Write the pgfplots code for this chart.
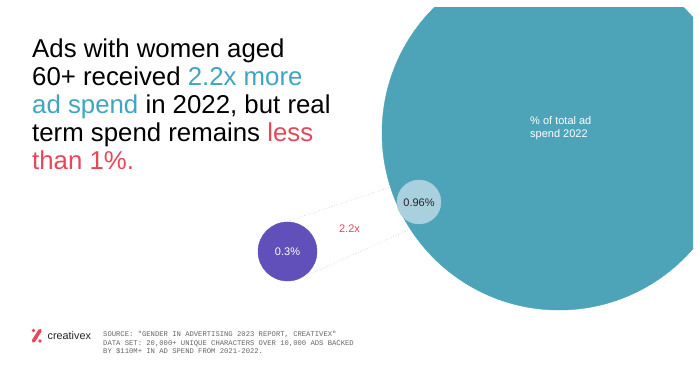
\documentclass[border=0pt]{standalone}
\usepackage{pgfplots}
\pgfplotsset{compat=1.18}
\usepackage{fontspec}
\setmainfont{Liberation Sans}
\setmonofont{Liberation Mono}
\definecolor{bigteal}{HTML}{4DA3B7}
\definecolor{lightblue}{HTML}{A8D0DE}
\definecolor{purp}{HTML}{6150B9}
\definecolor{titleteal}{HTML}{3FA6BF}
\definecolor{redtxt}{HTML}{E8475A}
\definecolor{srcgray}{HTML}{666666}
\definecolor{dotgray}{HTML}{C8C8C8}
\begin{document}
\begin{tikzpicture}
\useasboundingbox[fill=white] (0,0) rectangle (700pt,-382pt);
\begin{scope}
\clip (0,-8pt) rectangle (693pt,-382pt);
\begin{axis}[
  x=1pt, y=1pt, y dir=reverse,
  xmin=0, xmax=700, ymin=0, ymax=382,
  hide axis, clip=true, clip marker paths=true,
  at={(0,0)}, anchor=north west,
]
% connector lines (drawn under circles)
\addplot[dotgray, dotted, line width=0.6pt] coordinates {(282,223) (412,180)};
\addplot[dotgray, dotted, line width=0.6pt] coordinates {(308,275) (427,221.5)};
% % of total ad spend 2022
\addplot[only marks, mark=*, mark size=177pt, mark options={draw=bigteal, fill=bigteal}] coordinates {(559,133)};
% 0.96%
\addplot[only marks, mark=*, mark size=22pt, mark options={draw=lightblue, fill=lightblue}] coordinates {(419,202)};
% 0.3%
\addplot[only marks, mark=*, mark size=29.5pt, mark options={draw=purp, fill=purp}] coordinates {(287.5,251.5)};

% circle labels
\node[inner sep=0, anchor=base, font=\fontsize{11}{13}\selectfont, text=black!85] at (axis cs:419,206) {0.96\%};
\node[inner sep=0, anchor=base, font=\fontsize{11}{13}\selectfont, text=white] at (axis cs:287.5,255.5) {0.3\%};
\node[inner sep=0, anchor=base west, font=\fontsize{11}{13}\selectfont, text=white] at (axis cs:530,124) {\% of total ad};
\node[inner sep=0, anchor=base west, font=\fontsize{11}{13}\selectfont, text=white] at (axis cs:530,137) {spend 2022};
\node[inner sep=0, anchor=base, font=\fontsize{11}{13}\selectfont, text=redtxt] at (axis cs:349.5,232) {2.2x};

% title
\node[inner sep=0, anchor=base west, font=\fontsize{25.8}{28}\selectfont] at (axis cs:32,57) {Ads with women aged};
\node[inner sep=0, anchor=base west, font=\fontsize{25.8}{28}\selectfont] at (axis cs:32,85) {60+ received \textcolor{titleteal}{2.2x more}};
\node[inner sep=0, anchor=base west, font=\fontsize{25.8}{28}\selectfont] at (axis cs:32,113) {\textcolor{titleteal}{ad spend} in 2022, but real};
\node[inner sep=0, anchor=base west, font=\fontsize{25.8}{28}\selectfont] at (axis cs:32,141) {term spend remains \textcolor{redtxt}{less}};
\node[inner sep=0, anchor=base west, font=\fontsize{25.8}{28}\selectfont, text=redtxt] at (axis cs:32,169) {than 1\%.};

% logo
\draw[redtxt, line width=3.6pt, line cap=round] (axis cs:40,330.5) -- (axis cs:33.5,341);
\fill[redtxt] (axis cs:33.5,330.5) circle (1.9pt);
\fill[redtxt] (axis cs:40,341) circle (1.9pt);
\node[inner sep=0, anchor=base west, font=\fontsize{10.8}{13}\selectfont, text=black!85] at (axis cs:47.5,339.5) {creativex};

% source
\node[inner sep=0, anchor=base west, font=\ttfamily\fontsize{7.2}{8.6}\selectfont, text=srcgray] at (axis cs:103,336.5) {SOURCE: "GENDER IN ADVERTISING 2023 REPORT, CREATIVEX"};
\node[inner sep=0, anchor=base west, font=\ttfamily\fontsize{7.2}{8.6}\selectfont, text=srcgray] at (axis cs:103,345) {DATA SET: 20,000+ UNIQUE CHARACTERS OVER 10,000 ADS BACKED};
\node[inner sep=0, anchor=base west, font=\ttfamily\fontsize{7.2}{8.6}\selectfont, text=srcgray] at (axis cs:103,353.5) {BY \$110M+ IN AD SPEND FROM 2021-2022.};
\end{axis}
\end{scope}
\end{tikzpicture}
\end{document}
